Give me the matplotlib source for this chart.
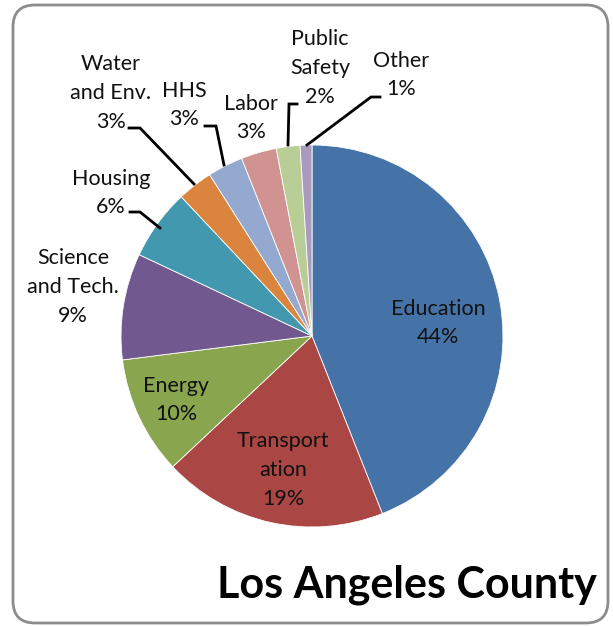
import matplotlib.pyplot as plt
from matplotlib.patches import FancyBboxPatch

plt.rcParams['font.family'] = ['Lato', 'DejaVu Sans']

# spending share by sector (percent)
sectors = ['Education', 'Transportation', 'Energy', 'Science and Tech.', 'Housing',
           'Water and Env.', 'HHS', 'Labor', 'Public Safety', 'Other']
shares = [44, 19, 10, 9, 6, 3, 3, 3, 2, 1]
label_names = ['Education', 'Transport\nation', 'Energy', 'Science\nand Tech.', 'Housing',
               'Water\nand Env.', 'HHS', 'Labor', 'Public\nSafety', 'Other']
colors = ['#4572A7', '#AA4643', '#89A54E', '#71588F', '#4198AF',
          '#DB843D', '#93A9CF', '#D19392', '#B9CD96', '#A99BBD']

W, H = 613, 626
fig = plt.figure(figsize=(W / 100, H / 100), dpi=100)
ax = fig.add_axes([0, 0, 1, 1])

# rounded frame around the chart
frame = FancyBboxPatch((13, 3), 595, 618, boxstyle='round,pad=0,rounding_size=22',
                       fill=False, edgecolor='#8c8c8c', linewidth=2)
ax.add_patch(frame)

cx, cy, r = 312, H - 336, 191
ax.pie(shares, colors=colors, startangle=90, counterclock=False,
       center=(cx, cy), radius=r, frame=True,
       wedgeprops=dict(edgecolor='white', linewidth=0.6))
ax.set_xlim(0, W)
ax.set_ylim(0, H)
ax.set_aspect('equal')
ax.axis('off')

# label positions (x, top-down y)
label_pos = [(438, 323), (283, 470), (176, 400), (73, 287), (111, 193),
             (111, 93), (184, 105), (251, 118), (320, 68), (401, 75)]
for name, val, (x, y) in zip(label_names, shares, label_pos):
    ax.text(x, H - y, f'{name}\n{val}%', ha='center', va='center',
            fontsize=15.5, linespacing=1.55, color='#111111')

# leader lines for the small slices
leaders = [
    [(129, 128), (140, 128), (194, 184)],   # Water and Env.
    [(205, 126), (216, 126), (224, 165)],   # HHS
    [(297, 104), (289, 104), (288, 145)],   # Public Safety
    [(380, 97), (371, 97), (307, 145)],     # Other
    [(130, 212), (140, 212), (160, 228)],   # Housing
]
for pts in leaders:
    xs = [p[0] for p in pts]
    ys = [H - p[1] for p in pts]
    ax.plot(xs, ys, color='black', linewidth=2, solid_joinstyle='miter')

ax.text(597, H - 585, 'Los Angeles County', ha='right', va='center',
        fontsize=31, fontweight='bold', color='black')

fig.savefig('out.png', dpi=100)
